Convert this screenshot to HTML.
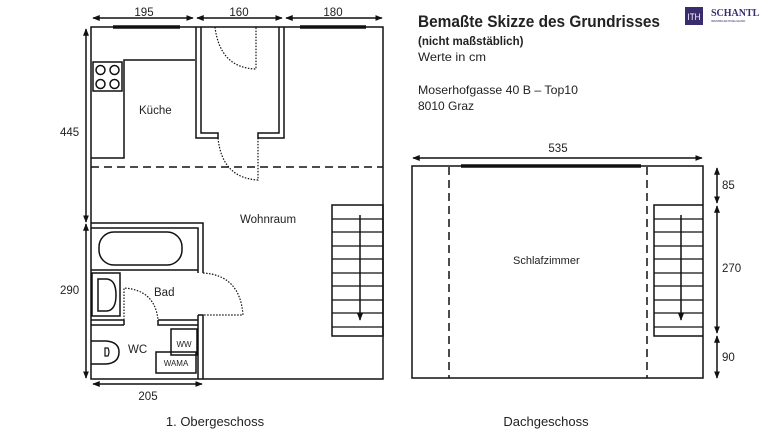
<!DOCTYPE html>
<html><head><meta charset="utf-8"><style>
body{margin:0;background:#fff;width:770px;height:432px;overflow:hidden}
svg text{font-family:"Liberation Sans",sans-serif;fill:#222}
</style></head><body>
<svg width="770" height="432" viewBox="0 0 770 432" xmlns="http://www.w3.org/2000/svg">
<defs>
<marker id="a" viewBox="0 0 10 10" refX="9" refY="5" markerWidth="5" markerHeight="5" orient="auto-start-reverse"><path d="M0,1 L10,5 L0,9z" fill="#111"/></marker>
</defs>
<g stroke="#111" fill="none" stroke-width="1.5">
<line x1="93" y1="18" x2="193" y2="18" marker-start="url(#a)" marker-end="url(#a)"/>
<line x1="197" y1="18" x2="282" y2="18" marker-start="url(#a)" marker-end="url(#a)"/>
<line x1="286" y1="18" x2="382" y2="18" marker-start="url(#a)" marker-end="url(#a)"/>
<line x1="86" y1="29" x2="86" y2="222" marker-start="url(#a)" marker-end="url(#a)"/>
<line x1="86" y1="224" x2="86" y2="378" marker-start="url(#a)" marker-end="url(#a)"/>
<line x1="93" y1="384" x2="202" y2="384" marker-start="url(#a)" marker-end="url(#a)"/>
<rect x="91" y="27" width="292" height="352"/>
<line x1="113" y1="27" x2="180" y2="27" stroke-width="3.5"/>
<line x1="300" y1="27" x2="366" y2="27" stroke-width="3.5"/>
<path d="M196,27 V138 H218 V133 H201 V27"/>
<path d="M284,27 V138 H258 V133 H279 V27"/>
<path d="M195,60 H124 V158 H91"/>
<rect x="93" y="62" width="29" height="29"/>
<circle cx="100.5" cy="70" r="4.5"/><circle cx="114.5" cy="70" r="4.5"/>
<circle cx="100.5" cy="84" r="4.5"/><circle cx="114.5" cy="84" r="4.5"/>
<g stroke-dasharray="1.5,1.5" stroke-width="1.2">
<path d="M215,27 Q220,68 256,69 V27"/>
<path d="M218,138 Q222,178 258,180 V138"/>
<path d="M203,273 Q240,275 243,315 H203"/>
<path d="M124,320 V288 Q155,290 158,320"/>
</g>
<line x1="91" y1="167" x2="383" y2="167" stroke-dasharray="8,5"/>
<path d="M91,223 H203 V273 M198,273 V228 H91"/>
<path d="M198,315 H203 V379 M198,315 V379"/>
<line x1="91" y1="270" x2="198" y2="270"/>
<rect x="99" y="232" width="83" height="33" rx="15"/>
<rect x="92" y="273" width="28" height="43"/>
<path d="M98,279 H107 Q116,280 116,295 Q116,310 107,311 H98Z"/>
<path d="M91,320 H124 M91,325 H124 M124,320 V325 M158,320 V325 H198 M158,320 H198"/>
<rect x="171" y="329" width="26" height="26"/>
<rect x="156" y="352" width="40" height="21"/>
<path d="M91,341 H106 Q119,342 119,352 Q119,363 106,364 H91"/>
<path d="M105,348 H108 Q110,352 108,356 H105Z" stroke-width="1.2"/>
<rect x="332" y="205" width="51" height="131"/>
<g stroke-width="1.2">
<path d="M332,219 H383 M332,232 H383 M332,246 H383 M332,259 H383 M332,273 H383 M332,286 H383 M332,300 H383 M332,313 H383 M332,327 H383"/>
</g>
<line x1="360" y1="215" x2="360" y2="320" marker-end="url(#a)"/>
<rect x="412" y="166" width="291" height="212"/>
<line x1="461" y1="166" x2="641" y2="166" stroke-width="3.5"/>
<line x1="449" y1="167" x2="449" y2="378" stroke-dasharray="8,5"/>
<line x1="647" y1="167" x2="647" y2="378" stroke-dasharray="8,5"/>
<line x1="413" y1="158" x2="702" y2="158" marker-start="url(#a)" marker-end="url(#a)"/>
<line x1="717" y1="168" x2="717" y2="203" marker-start="url(#a)" marker-end="url(#a)"/>
<line x1="717" y1="206" x2="717" y2="333" marker-start="url(#a)" marker-end="url(#a)"/>
<line x1="717" y1="336" x2="717" y2="378" marker-start="url(#a)" marker-end="url(#a)"/>
<path d="M703,205 H654 V336 H703"/>
<g stroke-width="1.2">
<path d="M654,219 H703 M654,232 H703 M654,246 H703 M654,259 H703 M654,273 H703 M654,286 H703 M654,300 H703 M654,313 H703 M654,327 H703"/>
</g>
<line x1="681" y1="215" x2="681" y2="320" marker-end="url(#a)"/>
</g>
<g font-size="11.5">
<text x="144" y="16" text-anchor="middle">195</text>
<text x="239" y="16" text-anchor="middle">160</text>
<text x="333" y="16" text-anchor="middle">180</text>
<text x="60" y="136">445</text>
<text x="60" y="294">290</text>
<text x="148" y="400" text-anchor="middle">205</text>
<text x="139" y="114">Küche</text>
<text x="240" y="223">Wohnraum</text>
<text x="154" y="296">Bad</text>
<text x="128" y="353">WC</text>
<text x="558" y="152" text-anchor="middle">535</text>
<text x="722" y="189">85</text>
<text x="722" y="272">270</text>
<text x="722" y="361">90</text>
<text x="513" y="264" font-size="11">Schlafzimmer</text>
<text x="215" y="426" text-anchor="middle" font-size="13">1. Obergeschoss</text>
<text x="546" y="426" text-anchor="middle" font-size="13">Dachgeschoss</text>
</g>
<text x="184" y="347" text-anchor="middle" font-size="8">WW</text>
<text x="176" y="366" text-anchor="middle" font-size="8">WAMA</text>
<text x="418" y="27" font-size="16.5" font-weight="bold" textLength="242" lengthAdjust="spacingAndGlyphs">Bemaßte Skizze des Grundrisses</text>
<text x="418" y="45" font-size="11.5" font-weight="bold">(nicht maßstäblich)</text>
<text x="418" y="61" font-size="12" textLength="68" lengthAdjust="spacingAndGlyphs">Werte in cm</text>
<text x="418" y="94" font-size="12" textLength="160" lengthAdjust="spacingAndGlyphs">Moserhofgasse 40 B – Top10</text>
<text x="418" y="110" font-size="12">8010 Graz</text>
<rect x="685" y="7" width="18" height="18" fill="#3b2c6e"/>
<text x="694" y="20" font-size="9" text-anchor="middle" textLength="13" lengthAdjust="spacingAndGlyphs" style="fill:#fff">ITH</text>
<text x="711" y="16" font-size="10" font-weight="bold" style="fill:#3b2c6e;font-family:'Liberation Serif',serif">SCHANTL</text>
<text x="711" y="22" font-size="3" style="fill:#3b2c6e">IMMOBILIENTREUHAND</text>
</svg>
</body></html>
